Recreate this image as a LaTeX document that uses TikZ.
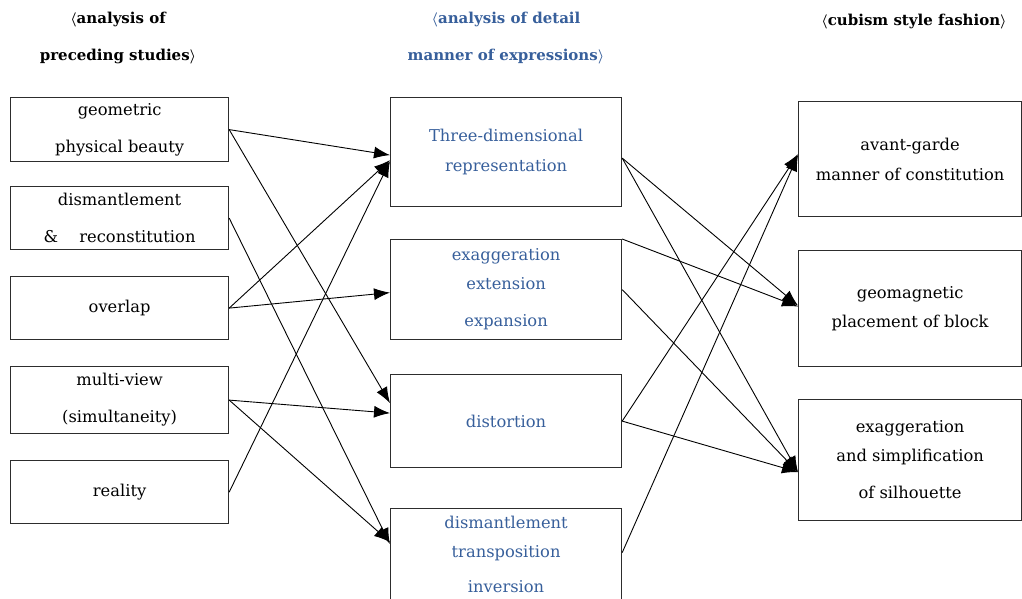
\documentclass[tikz,border=0pt]{standalone}
\usepackage{fontspec}
\setmainfont{DejaVu Serif}
\usetikzlibrary{arrows.meta}
\definecolor{hblue}{RGB}{55,95,155}
\definecolor{boxline}{RGB}{45,45,45}
\newcommand{\lab}{{\boldmath$\langle$}}
\newcommand{\rab}{{\boldmath$\rangle$}}
\begin{document}
\begin{tikzpicture}[x=1pt,y=-1pt,
  box/.style={draw=boxline, line width=1.2pt, inner sep=0pt, anchor=north west, align=center, font=\fontsize{16.3}{29}\selectfont},
  blu/.style={text=hblue},
  hdr/.style={font=\bfseries\fontsize{15}{37}\selectfont, align=center},
  arr/.style={-{Latex[length=16pt,width=12pt]}, line width=0.9pt}]
\useasboundingbox (0,0) rectangle (1022,598);
\clip (0,0) rectangle (1022,598);
% headers
\node[hdr] (h1) at (118,38) {\lab analysis of\\preceding studies\rab};
\node[hdr, text=hblue] (h2) at (506,38.5) {\lab analysis of detail\\manner of expressions\rab};
\node[hdr] (h3) at (914,22) {\lab cubism style fashion\rab};
% left column
\node[box, minimum width=218pt, minimum height=64pt] (l1) at (10,97) {geometric\\[8pt]physical beauty};
\node[box, minimum width=218pt, minimum height=63pt] (l2) at (10,186) {dismantlement\\[8pt]\&\hspace{1.3em}reconstitution};
\node[box, minimum width=218pt, minimum height=63pt] (l3) at (10,276) {overlap};
\node[box, minimum width=218pt, minimum height=67pt] (l4) at (10,366) {multi-view\\[8pt](simultaneity)};
\node[box, minimum width=218pt, minimum height=63pt] (l5) at (10,460) {reality};
% middle column
\node[box, blu, minimum width=231pt, minimum height=109pt] (m1) at (390,97) {Three-dimensional\\[1pt]representation};
\node[box, blu, minimum width=231pt, minimum height=100pt] (m2) at (390,239) {exaggeration\\extension\\[8pt]expansion};
\node[box, blu, minimum width=231pt, minimum height=93pt] (m3) at (390,374) {distortion};
\node[box, blu, minimum width=231pt, minimum height=91pt] (m4) at (390,508) {dismantlement\\transposition\\[6pt]inversion};
% right column
\node[box, minimum width=223pt, minimum height=115pt] (r1) at (798,101) {avant-garde\\[1pt]manner of constitution};
\node[box, minimum width=223pt, minimum height=116pt] (r2) at (798,250) {geomagnetic\\placement of block};
\node[box, minimum width=223pt, minimum height=121pt] (r3) at (798,399) {exaggeration\\and simplification\\[8pt]of silhouette};
% left -> middle
\draw[arr] (l1.east) -- ([yshift=-3pt]m1.west);
\draw[arr] (l1.east) -- ([yshift=18pt]m3.west);
\draw[arr] (l2.east) -- ([yshift=10pt]m4.west);
\draw[arr] (l3.east) -- ([yshift=-8pt]m1.west);
\draw[arr] (l3.east) -- ([yshift=-3pt]m2.west);
\draw[arr] (l4.east) -- ([yshift=8pt]m3.west);
\draw[arr] (l4.east) -- ([yshift=12pt]m4.west);
\draw[arr] (l5.east) -- ([yshift=-9pt]m1.west);
% middle -> right
\draw[arr] ([yshift=-6pt]m1.east) -- ([yshift=3pt]r2.west);
\draw[arr] ([yshift=-6pt]m1.east) -- ([yshift=-12pt]r3.west);
\draw[arr] (m2.north east) -- ([yshift=2pt]r2.west);
\draw[arr] (m2.east) -- ([yshift=-12pt]r3.west);
\draw[arr] (m3.east) -- ([yshift=5pt]r1.west);
\draw[arr] (m3.east) -- ([yshift=-12pt]r3.west);
\draw[arr] ([yshift=1.5pt]m4.east) -- ([yshift=4pt]r1.west);
\end{tikzpicture}
\end{document}
